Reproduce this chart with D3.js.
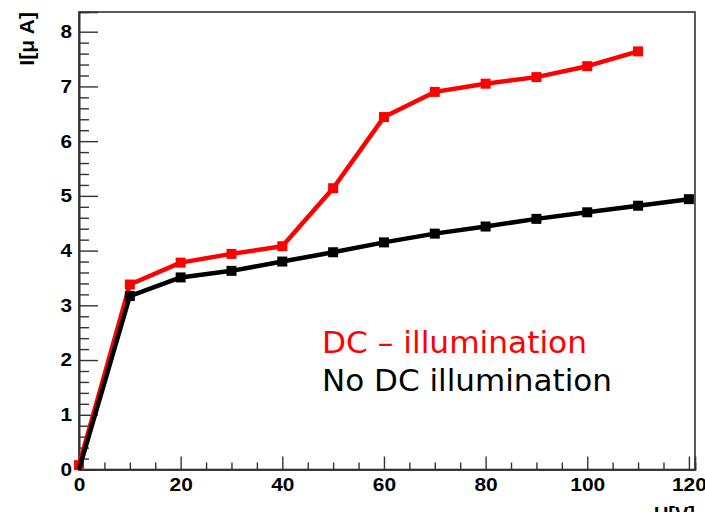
<!DOCTYPE html>
<html>
<head>
<meta charset="utf-8">
<script src="https://cdn.jsdelivr.net/npm/d3@7"></script>
<style>
  html, body { margin: 0; padding: 0; background: #fff; }
  svg { display: block; }
</style>
</head>
<body>
<svg id="chart" width="705" height="512"></svg>
<script>
// Bias voltage points [V]
const voltage = [0, 10, 20, 30, 40, 50, 60, 70, 80, 90, 100, 110, 120];
// Current [µA] with DC illumination
const currentDC = [0.08, 3.38, 3.78, 3.94, 4.08, 5.14, 6.44, 6.90, 7.05, 7.17, 7.37, 7.64];
// Current [µA] without DC illumination
const currentNoDC = [0.0, 3.17, 3.51, 3.63, 3.80, 3.97, 4.15, 4.31, 4.44, 4.58, 4.70, 4.82, 4.94];

const xMajor = [0, 20, 40, 60, 80, 100, 120];
const yMajor = [0, 1, 2, 3, 4, 5, 6, 7, 8];

const legendLabels = ["DC \u2013 illumination", "No DC illumination"];
const seriesColors = ["#ff0000", "#000000"];

const svg = d3.select("#chart");
const frame = { left: 79, right: 695, top: 12, bottom: 469.5 };

const x = d3.scaleLinear().domain([0, 121.2]).range([frame.left, frame.right]);
const y = d3.scaleLinear().domain([0, 8.36]).range([frame.bottom, frame.top]);

const xMinor = d3.range(0, 121, 5).filter(v => v % 20 !== 0);
const yMinor = d3.range(0, 41).map(i => +(i * 0.2).toFixed(1)).filter(v => v <= 8.3 && Math.abs(v - Math.round(v)) > 1e-6);

// frame box
svg.append("rect")
  .attr("x", frame.left).attr("y", frame.top)
  .attr("width", frame.right - frame.left).attr("height", frame.bottom - frame.top)
  .attr("fill", "none").attr("stroke", "#333").attr("stroke-width", 1.6);

const tickFont = "bold 18.5px 'Liberation Sans', Arial, sans-serif";

function styleAxis(g) {
  g.select(".domain").attr("stroke", "#333").attr("stroke-width", 1.6);
  g.selectAll(".tick line").attr("stroke", "#333").attr("stroke-width", 1.4);
  g.selectAll(".tick text").attr("fill", "#000").style("font", tickFont);
}

function stretch(sel, factor) {
  sel.each(function () {
    const len = this.getComputedTextLength();
    if (len > 0) {
      d3.select(this).attr("textLength", len * factor).attr("lengthAdjust", "spacingAndGlyphs");
    }
  });
}

// x axis: minor then major ticks, pointing into the frame
svg.append("g")
  .attr("transform", `translate(0,${frame.bottom})`)
  .call(d3.axisBottom(x).tickValues(xMinor).tickSize(-7).tickFormat(""))
  .call(styleAxis);
const gx = svg.append("g")
  .attr("transform", `translate(0,${frame.bottom})`)
  .call(d3.axisBottom(x).tickValues(xMajor).tickSize(-13).tickPadding(8).tickFormat(d3.format("d")))
  .call(styleAxis);
gx.selectAll(".tick text").call(stretch, 1.13);

// y axis
svg.append("g")
  .attr("transform", `translate(${frame.left},0)`)
  .call(d3.axisLeft(y).tickValues(yMinor).tickSize(-10).tickFormat(""))
  .call(styleAxis);
const gy = svg.append("g")
  .attr("transform", `translate(${frame.left},0)`)
  .call(d3.axisLeft(y).tickValues(yMajor).tickSize(-19).tickPadding(7).tickFormat(d3.format("d")))
  .call(styleAxis);
gy.selectAll(".tick text").call(stretch, 1.12);

// axis titles
const yTitle = svg.append("text")
  .attr("transform", "translate(34,12) rotate(-90)")
  .attr("text-anchor", "end")
  .style("font", "bold 20px 'Liberation Sans', Arial, sans-serif")
  .text("I[\u03bc A]");
stretch(yTitle, 1.05);

const xTitle = svg.append("text")
  .attr("x", frame.right).attr("y", 521)
  .attr("text-anchor", "end")
  .style("font", "bold 20px 'Liberation Sans', Arial, sans-serif")
  .text("U[V]");

// series: illuminated first, dark current drawn on top
const series = [currentDC, currentNoDC];
const line = d3.line().x((d, i) => x(voltage[i])).y(d => y(d));

series.forEach((vals, k) => {
  const g = svg.append("g");
  g.append("path")
    .datum(vals)
    .attr("d", line)
    .attr("fill", "none")
    .attr("stroke", seriesColors[k])
    .attr("stroke-width", 4.5)
    .attr("stroke-linejoin", "round");
  const m = 10;
  // markers sitting on the frame edge (y = 0) are not drawn
  g.selectAll("rect")
    .data(vals.map((v, i) => ({ v, i })).filter(d => d.v > 0))
    .join("rect")
    .attr("x", d => x(voltage[d.i]) - m / 2)
    .attr("y", d => y(d.v) - m / 2)
    .attr("width", m).attr("height", m)
    .attr("fill", seriesColors[k]);
});

// legend text
const legendX = 322;
const legendY = [353, 391];
const legendWidths = [265, 290];
legendLabels.forEach((t, k) => {
  svg.append("text")
    .attr("x", legendX).attr("y", legendY[k])
    .attr("fill", seriesColors[k])
    .attr("textLength", legendWidths[k])
    .attr("lengthAdjust", "spacingAndGlyphs")
    .style("font", "30px 'DejaVu Sans', Verdana, sans-serif")
    .text(t);
});
</script>
</body>
</html>
